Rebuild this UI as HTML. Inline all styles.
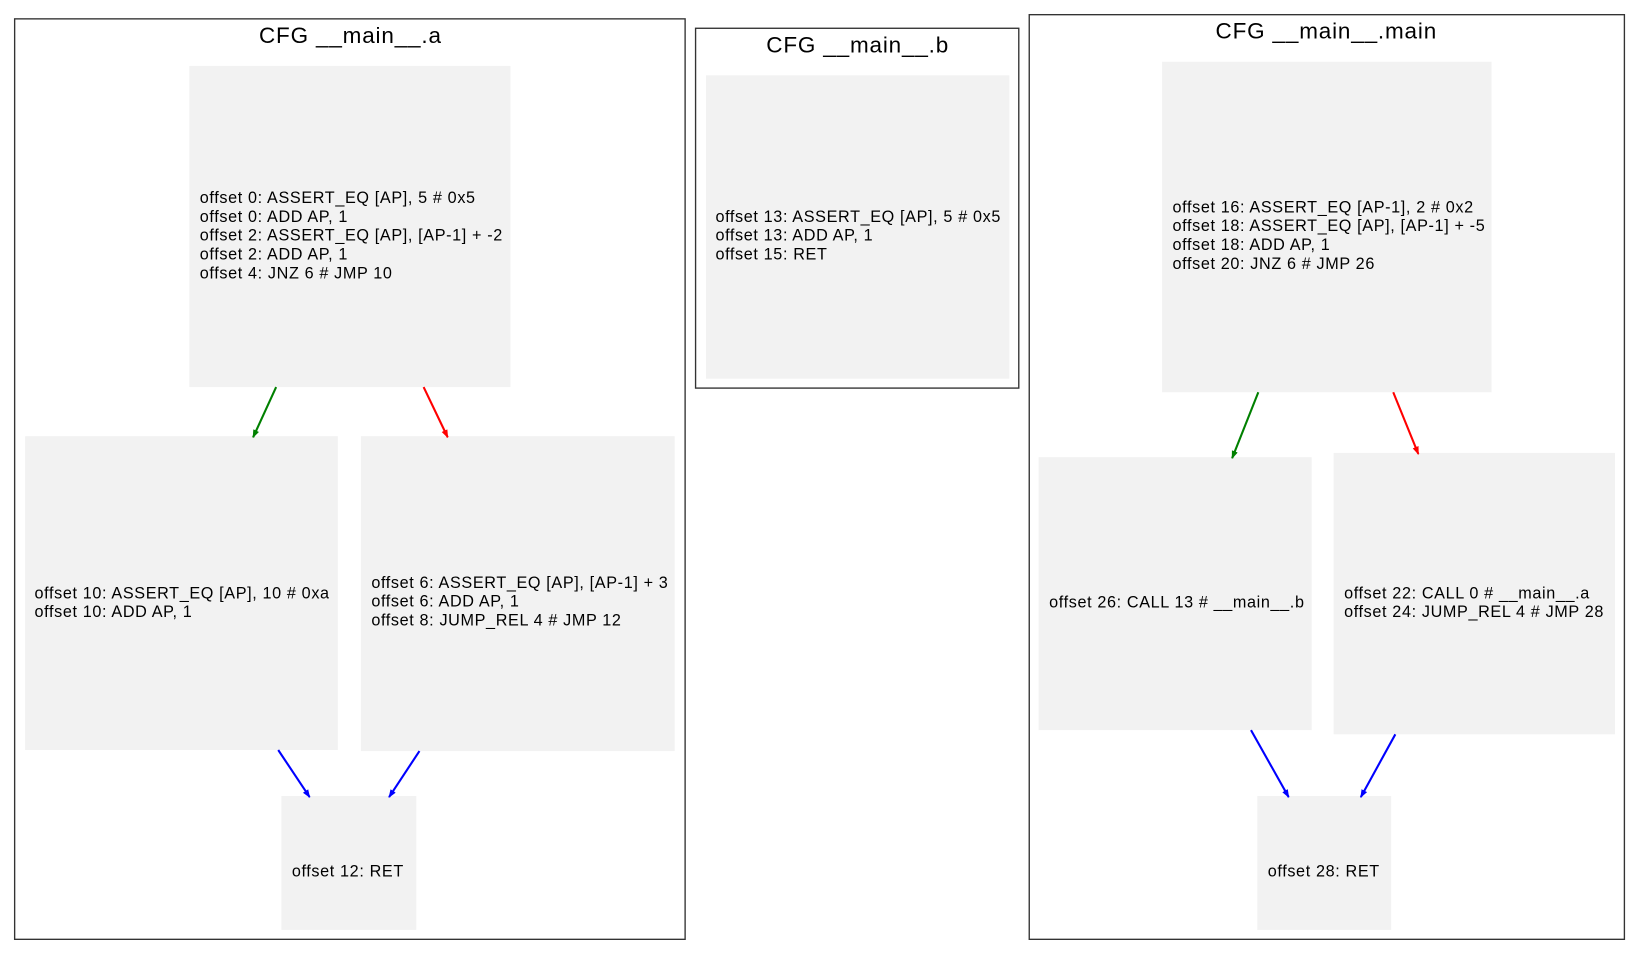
<!DOCTYPE html>
<html><head><style>html,body{margin:0;padding:0;background:#fff}svg{display:block}</style></head>
<body>
<svg width="1638" height="954" viewBox="0 0 1566 912" xmlns="http://www.w3.org/2000/svg" font-family="Liberation Sans, sans-serif">
<defs>
<marker id="g" markerWidth="8" markerHeight="8" refX="7" refY="4" orient="auto" markerUnits="userSpaceOnUse"><path d="M0,1 L8,4 L0,7z" fill="green"/></marker>
<marker id="r" markerWidth="8" markerHeight="8" refX="7" refY="4" orient="auto" markerUnits="userSpaceOnUse"><path d="M0,1 L8,4 L0,7z" fill="red"/></marker>
<marker id="b" markerWidth="8" markerHeight="8" refX="7" refY="4" orient="auto" markerUnits="userSpaceOnUse"><path d="M0,1 L8,4 L0,7z" fill="blue"/></marker>
</defs>
<g fill="none" stroke="#333" stroke-width="1.3">
<rect x="14" y="18" width="641" height="880"/>
<rect x="665" y="27" width="309" height="344"/>
<rect x="984" y="14" width="569" height="884"/>
</g>
<g font-size="21.5" letter-spacing="0.8" text-anchor="middle" fill="#000">
<text x="335" y="41">CFG __main__.a</text>
<text x="820" y="50">CFG __main__.b</text>
<text x="1268" y="37">CFG __main__.main</text>
</g>
<g fill="#f2f2f2">
<rect x="181" y="63" width="307" height="307"/>
<rect x="24" y="417" width="299" height="300"/>
<rect x="345" y="417" width="300" height="301"/>
<rect x="269" y="761" width="129" height="128"/>
<rect x="675" y="72" width="290" height="290"/>
<rect x="1111" y="59" width="315" height="316"/>
<rect x="993" y="437" width="261" height="261"/>
<rect x="1275" y="433" width="269" height="269"/>
<rect x="1202" y="761" width="128" height="128"/>
</g>
<g font-size="15.5" letter-spacing="0.6" fill="#000">
<text x="191" y="194">offset 0: ASSERT_EQ [AP], 5 # 0x5</text>
<text x="191" y="212">offset 0: ADD AP, 1</text>
<text x="191" y="230">offset 2: ASSERT_EQ [AP], [AP-1] + -2</text>
<text x="191" y="248">offset 2: ADD AP, 1</text>
<text x="191" y="266">offset 4: JNZ 6 # JMP 10</text>
<text x="33" y="572">offset 10: ASSERT_EQ [AP], 10 # 0xa</text>
<text x="33" y="590">offset 10: ADD AP, 1</text>
<text x="355" y="562">offset 6: ASSERT_EQ [AP], [AP-1] + 3</text>
<text x="355" y="580">offset 6: ADD AP, 1</text>
<text x="355" y="598">offset 8: JUMP_REL 4 # JMP 12</text>
<text x="279" y="838">offset 12: RET</text>
<text x="684" y="212">offset 13: ASSERT_EQ [AP], 5 # 0x5</text>
<text x="684" y="230">offset 13: ADD AP, 1</text>
<text x="684" y="248">offset 15: RET</text>
<text x="1121" y="203">offset 16: ASSERT_EQ [AP-1], 2 # 0x2</text>
<text x="1121" y="221">offset 18: ASSERT_EQ [AP], [AP-1] + -5</text>
<text x="1121" y="239">offset 18: ADD AP, 1</text>
<text x="1121" y="257">offset 20: JNZ 6 # JMP 26</text>
<text x="1003" y="581">offset 26: CALL 13 # __main__.b</text>
<text x="1285" y="572">offset 22: CALL 0 # __main__.a</text>
<text x="1285" y="590">offset 24: JUMP_REL 4 # JMP 28</text>
<text x="1212" y="838">offset 28: RET</text>
</g>
<g stroke-width="2" fill="none">
<line x1="264" y1="370" x2="242" y2="418" stroke="green" marker-end="url(#g)"/>
<line x1="405" y1="370" x2="428" y2="418" stroke="red" marker-end="url(#r)"/>
<line x1="266" y1="717" x2="296" y2="762" stroke="blue" marker-end="url(#b)"/>
<line x1="401" y1="718" x2="372" y2="762" stroke="blue" marker-end="url(#b)"/>
<line x1="1203" y1="375" x2="1178" y2="438" stroke="green" marker-end="url(#g)"/>
<line x1="1332" y1="375" x2="1356" y2="434" stroke="red" marker-end="url(#r)"/>
<line x1="1196" y1="698" x2="1232" y2="762" stroke="blue" marker-end="url(#b)"/>
<line x1="1334" y1="702" x2="1301" y2="762" stroke="blue" marker-end="url(#b)"/>
</g>
</svg>
</body></html>
